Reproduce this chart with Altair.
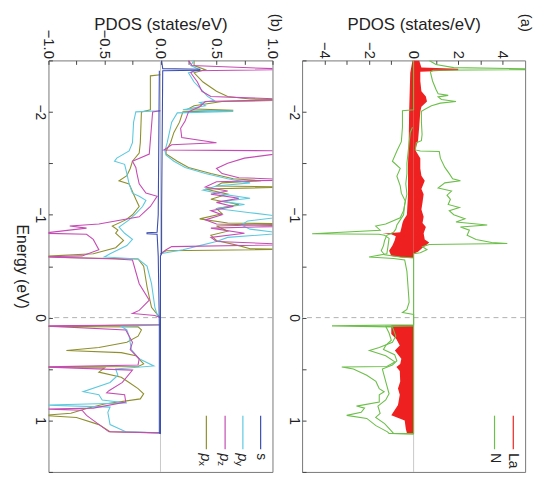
import altair as alt
import pandas as pd

# ---------------- axis ticks ----------------
ENERGY_TICKS = [-2.5, -2.0, -1.5, -1.0, -0.5, 0.0, 0.5, 1.0, 1.5]
A_TICKS = [-4, -3, -2, -1, 0, 1, 2, 3, 4]
B_TICKS = [-1.0, -0.75, -0.5, -0.25, 0.0, 0.25, 0.5, 0.75, 1.0]

# ---------------- panel (a): La / N  (E in eV, PDOS in states/eV) ----------------
N_UP = [(-2.50, 0.7), (-2.46, 1.0), (-2.43, 1.8), (-2.418, 5.2), (-2.41, 5.2), (-2.405, 0.9),
        (-2.39, 0.75), (-2.30, 0.85), (-2.22, 1.0), (-2.175, 1.1), (-2.16, 1.55), (-2.145, 1.1),
        (-2.12, 1.25), (-2.10, 1.9), (-2.085, 1.2), (-2.06, 0.8), (-2.03, 0.55), (-2.005, 0.35),
        (-1.90, 0.35), (-1.78, 0.38), (-1.72, 0.35), (-1.70, 0.12), (-1.63, 0.08), (-1.62, 0.3),
        (-1.615, 1.15), (-1.55, 1.2), (-1.46, 1.4), (-1.40, 1.6), (-1.35, 1.75), (-1.33, 2.1),
        (-1.31, 1.4), (-1.26, 1.1), (-1.23, 1.7), (-1.19, 1.5), (-1.15, 1.65), (-1.10, 1.55),
        (-1.07, 2.05), (-1.04, 1.6), (-1.00, 1.8), (-0.96, 2.3), (-0.93, 1.9), (-0.90, 3.3),
        (-0.88, 2.1), (-0.85, 2.5), (-0.80, 2.4), (-0.76, 2.8), (-0.73, 3.5), (-0.72, 4.2),
        (-0.71, 0.7), (-0.69, 0.4), (-0.66, 0.6), (-0.63, 0.3), (-0.62, 0.0), (1.13, 0.0)]
N_DN = [(-2.50, 0.0), (-2.02, 0.0), (-2.01, -0.5), (-1.85, -0.5), (-1.71, -0.55), (-1.62, -0.75),
        (-1.52, -0.95), (-1.45, -0.6), (-1.375, -0.75), (-1.28, -0.6), (-1.21, -0.55),
        (-1.13, -0.37), (-1.04, -0.45), (-0.97, -0.6), (-0.91, -1.25), (-0.89, -1.7),
        (-0.85, -1.5), (-0.815, -4.55), (-0.81, -1.55), (-0.80, -1.3), (-0.77, -1.1),
        (-0.69, -1.15), (-0.62, -1.2), (-0.59, -2.0), (-0.575, -0.9), (-0.56, -0.4),
        (-0.45, -0.3), (-0.30, -0.25), (-0.15, -0.2), (-0.08, -0.3), (-0.05, -0.5), (-0.03, 0.0),
        (0.07, 0.0), (0.08, -3.66), (0.09, -0.95), (0.18, -0.8), (0.24, -0.95), (0.29, -1.54),
        (0.32, -1.98), (0.37, -1.25), (0.43, -0.84), (0.475, -1.2), (0.48, -3.22), (0.50, -2.7),
        (0.56, -2.1), (0.62, -1.69), (0.69, -1.54), (0.72, -1.32), (0.75, -1.54), (0.82, -1.54),
        (0.86, -2.56), (0.88, -2.2), (0.92, -2.35), (0.95, -3.0), (0.98, -2.1), (1.05, -1.69),
        (1.11, -1.17), (1.125, -1.1), (1.13, 0.0)]
N_DN_INNER = [(-1.85, -0.05), (-1.80, -0.15), (-1.70, -0.2), (-1.60, -0.25), (-1.50, -0.3),
              (-1.40, -0.3), (-1.30, -0.35), (-1.20, -0.3), (-1.10, -0.4), (-1.00, -0.45),
              (-0.95, -0.6), (-0.90, -0.75), (-0.86, -0.8), (-0.83, -0.9), (-0.80, -1.2),
              (-0.75, -1.3), (-0.70, -1.35), (-0.65, -1.45), (-0.61, -1.3), (-0.59, -0.6),
              (-0.58, 0.0)]
N_DN_INNER2 = [(0.08, 0.0), (0.085, -1.25), (0.15, -1.1), (0.22, -1.0), (0.27, -1.25),
               (0.31, -1.35), (0.36, -0.85), (0.42, -0.75), (0.46, -0.95), (0.50, -1.4),
               (0.58, -1.3), (0.66, -1.2), (0.74, -1.1), (0.80, -1.25), (0.86, -1.6),
               (0.93, -1.5), (0.97, -1.7), (1.03, -1.3), (1.10, -1.0), (1.125, -0.9), (1.13, 0.0)]
LA_UP = [(-2.50, 0.25), (-2.43, 0.35), (-2.418, 2.0), (-2.405, 2.0), (-2.39, 0.3), (-2.30, 0.3),
         (-2.20, 0.35), (-2.15, 0.55), (-2.10, 0.6), (-2.05, 0.35), (-2.00, 0.3), (-1.85, 0.25),
         (-1.72, 0.2), (-1.65, 0.1), (-1.62, 0.1), (-1.55, 0.3), (-1.45, 0.3), (-1.38, 0.35),
         (-1.33, 0.5), (-1.25, 0.35), (-1.20, 0.45), (-1.12, 0.4), (-1.05, 0.35), (-0.98, 0.45),
         (-0.92, 0.4), (-0.88, 0.55), (-0.82, 0.45), (-0.76, 0.5), (-0.73, 0.7), (-0.71, 0.6),
         (-0.68, 0.4), (-0.64, 0.2), (-0.62, 0.0), (1.13, 0.0)]
LA_DN = [(-2.50, -0.05), (-2.38, -0.15), (-2.00, -0.2), (-1.70, -0.22), (-1.50, -0.25),
         (-1.20, -0.25), (-1.00, -0.3), (-0.95, -0.45), (-0.92, -0.5), (-0.87, -0.55),
         (-0.83, -0.6), (-0.815, -1.4), (-0.81, -1.0), (-0.79, -0.8), (-0.75, -0.85),
         (-0.70, -0.95), (-0.65, -1.1), (-0.60, -1.0), (-0.585, -0.5), (-0.58, 0.0), (0.07, 0.0),
         (0.075, -1.0), (0.16, -1.0), (0.21, -0.77), (0.27, -0.62), (0.32, -0.84), (0.40, -0.55),
         (0.45, -0.6), (0.48, -0.77), (0.52, -0.62), (0.62, -0.6), (0.69, -0.7), (0.75, -0.62),
         (0.85, -0.7), (0.95, -1.0), (1.00, -0.4), (1.08, -0.35), (1.125, -0.3), (1.13, 0.0)]

# ---------------- panel (b): N s / p orbitals ----------------
S_UP = [(-2.50, 0.01), (-2.42, 0.02), (-2.415, 0.35), (-2.405, 0.35), (-2.40, 0.02),
        (-1.00, 0.01), (-0.62, 0.01), (-0.60, 0.0), (1.13, 0.0)]
S_DN = [(-2.40, -0.01), (-1.00, -0.02), (-0.83, -0.03), (-0.825, -0.12), (-0.815, -0.12),
        (-0.81, -0.03), (-0.60, -0.02), (0.08, -0.01), (1.12, -0.01), (1.13, 0.0)]
PX_UP = [(-2.50, 0.3), (-2.45, 0.3), (-2.41, 0.4), (-2.38, 0.3), (-2.29, 0.38), (-2.20, 0.5),
         (-2.15, 0.6), (-2.125, 0.8), (-2.115, 1.2), (-2.10, 0.55), (-2.06, 0.3), (-2.03, 0.25),
         (-2.015, 0.65), (-2.00, 0.2), (-1.90, 0.17), (-1.80, 0.12), (-1.70, 0.09), (-1.62, 0.05),
         (-1.59, 0.05), (-1.52, 0.15), (-1.46, 0.25), (-1.40, 0.45), (-1.35, 0.65), (-1.33, 0.9),
         (-1.31, 0.55), (-1.28, 0.5), (-1.27, 1.2), (-1.25, 0.4), (-1.20, 0.6), (-1.15, 0.45),
         (-1.10, 0.7), (-1.06, 0.5), (-1.01, 0.55), (-0.96, 0.35), (-0.92, 0.6), (-0.91, 1.2),
         (-0.89, 0.5), (-0.84, 0.6), (-0.80, 0.45), (-0.75, 0.5), (-0.70, 0.7), (-0.67, 0.8),
         (-0.665, 1.2), (-0.65, 0.05), (-0.62, 0.0)]
PY_UP = [(-2.50, 0.3), (-2.45, 0.27), (-2.41, 0.35), (-2.38, 0.25), (-2.29, 0.3), (-2.20, 0.38),
         (-2.15, 0.42), (-2.11, 0.48), (-2.09, 0.35), (-2.06, 0.4), (-2.02, 0.2), (-2.005, 0.65),
         (-1.99, 0.15), (-1.90, 0.1), (-1.80, 0.08), (-1.70, 0.06), (-1.62, 0.04), (-1.58, 0.05),
         (-1.52, 0.12), (-1.46, 0.22), (-1.40, 0.4), (-1.35, 0.6), (-1.31, 0.8), (-1.28, 0.5),
         (-1.24, 0.38), (-1.20, 0.55), (-1.16, 0.8), (-1.13, 0.55), (-1.10, 0.75), (-1.06, 0.5),
         (-1.02, 0.8), (-0.98, 1.1), (-0.94, 0.78), (-0.90, 0.72), (-0.86, 0.8), (-0.82, 1.1),
         (-0.78, 0.6), (-0.74, 0.5), (-0.70, 0.35), (-0.66, 0.2), (-0.62, 0.0)]
PZ_UP = [(-2.50, 0.25), (-2.45, 0.28), (-2.412, 1.2), (-2.40, 0.3), (-2.38, 0.27), (-2.29, 0.33),
         (-2.20, 0.37), (-2.15, 0.45), (-2.12, 1.2), (-2.10, 0.4), (-2.05, 0.35), (-2.00, 0.25),
         (-1.91, 0.22), (-1.84, 0.18), (-1.75, 0.19), (-1.70, 0.5), (-1.68, 0.1), (-1.63, 0.03),
         (-1.62, 1.2), (-1.60, 1.1), (-1.55, 0.75), (-1.50, 0.6), (-1.45, 0.5), (-1.40, 0.55),
         (-1.36, 0.7), (-1.34, 1.2), (-1.32, 0.5), (-1.27, 0.4), (-1.23, 0.6), (-1.20, 0.45),
         (-1.16, 0.7), (-1.12, 0.5), (-1.08, 0.65), (-1.04, 0.45), (-1.00, 0.55), (-0.95, 0.4),
         (-0.91, 0.5), (-0.89, 1.2), (-0.87, 0.45), (-0.82, 0.75), (-0.78, 0.45), (-0.74, 0.5),
         (-0.71, 1.2), (-0.69, 0.1), (-0.66, 0.05), (-0.62, 0.0)]
PX_DN = [(-2.36, 0.0), (-2.35, -0.09), (-2.02, -0.09), (-2.00, -0.17), (-1.70, -0.18),
         (-1.60, -0.19), (-1.52, -0.25), (-1.45, -0.27), (-1.38, -0.3), (-1.33, -0.37),
         (-1.30, -0.28), (-1.25, -0.26), (-1.15, -0.22), (-1.08, -0.19), (-1.00, -0.25),
         (-0.95, -0.31), (-0.89, -0.43), (-0.85, -0.38), (-0.82, -0.4), (-0.75, -0.33),
         (-0.68, -0.4), (-0.62, -0.6), (-0.595, -1.05), (-0.585, -0.9), (-0.57, -0.2),
         (-0.50, -0.15), (-0.30, -0.12), (-0.10, -0.08), (-0.02, -0.02), (0.00, 0.0), (0.07, 0.0),
         (0.085, -1.05), (0.09, -0.2), (0.12, -0.17), (0.18, -0.2), (0.24, -0.3), (0.29, -0.55),
         (0.32, -0.84), (0.34, -0.35), (0.37, -0.22), (0.45, -0.15), (0.475, -0.2), (0.48, -1.05),
         (0.49, -0.5), (0.53, -0.55), (0.58, -0.35), (0.63, -0.28), (0.69, -0.2), (0.74, -0.15),
         (0.79, -0.18), (0.84, -0.5), (0.88, -0.65), (0.93, -0.8), (0.95, -1.05), (0.97, -0.75),
         (1.04, -0.55), (1.11, -0.45), (1.12, 0.0)]
PY_DN = [(-2.01, 0.0), (-2.00, -0.22), (-1.90, -0.24), (-1.70, -0.25), (-1.62, -0.28),
         (-1.55, -0.39), (-1.52, -0.41), (-1.49, -0.32), (-1.40, -0.3), (-1.30, -0.28),
         (-1.21, -0.25), (-1.18, -0.19), (-1.14, -0.13), (-1.08, -0.16), (-1.01, -0.22),
         (-0.95, -0.28), (-0.88, -0.37), (-0.82, -0.32), (-0.76, -0.25), (-0.70, -0.3),
         (-0.62, -0.45), (-0.59, -0.5), (-0.57, -0.2), (-0.50, -0.12), (-0.33, -0.08),
         (-0.10, -0.05), (-0.03, -0.03), (0.00, 0.0), (0.07, 0.0), (0.085, -0.35), (0.12, -0.3),
         (0.18, -0.28), (0.31, -0.26), (0.40, -0.19), (0.47, -0.06), (0.50, -0.4), (0.56, -0.38),
         (0.63, -0.45), (0.72, -0.69), (0.75, -0.55), (0.80, -0.52), (0.83, -0.3), (0.85, -1.05),
         (0.87, -0.45), (0.92, -0.47), (1.04, -0.45), (1.11, -0.31), (1.12, 0.0)]
PZ_DN = [(-2.01, 0.0), (-2.00, -0.07), (-1.59, -0.1), (-1.52, -0.25), (-1.46, -0.22),
         (-1.40, -0.21), (-1.30, -0.19), (-1.21, -0.13), (-1.18, -0.03), (-1.08, -0.09),
         (-0.98, -0.19), (-0.91, -0.55), (-0.89, -0.81), (-0.87, -0.66), (-0.82, -1.05),
         (-0.81, -0.66), (-0.76, -0.6), (-0.66, -0.55), (-0.60, -0.7), (-0.59, -1.05),
         (-0.57, -0.4), (-0.56, -0.25), (-0.33, -0.19), (-0.17, -0.1), (-0.07, -0.19),
         (-0.04, -0.25), (-0.02, -0.05), (0.00, 0.0), (0.07, 0.0), (0.08, -1.05), (0.12, -0.31),
         (0.24, -0.25), (0.31, -0.27), (0.40, -0.19), (0.46, -0.2), (0.48, -1.05), (0.51, -0.25),
         (0.63, -0.34), (0.71, -0.46), (0.73, -0.48), (0.75, -0.32), (0.82, -0.31), (0.88, -0.6),
         (0.89, -1.05), (0.90, -0.7), (0.95, -0.66), (1.11, -0.46), (1.12, 0.0)]

# ---------------- styling ----------------
FONT = "Liberation Sans"
COL = {"La": "#ee2020", "N": "#6cbf4a", "s": "#3a4db0", "py": "#5dc9df",
       "pz": "#c64bb4", "px": "#8f8f2e"}
H, WA, WB = 417, 226, 227


def frame(pairs, series, seg):
    return pd.DataFrame({"E": [p[0] for p in pairs], "v": [p[1] for p in pairs],
                         "series": series, "seg": seg})


def make_yaxis(title):
    return alt.Axis(values=ENERGY_TICKS,
                    labelExpr="datum.value == round(datum.value) ? format(datum.value, 'd') : ''",
                    labelAngle=90, labelAlign="center", labelBaseline="top",
                    labelPadding=2, tickSize=4, offset=-4, domain=False, grid=False,
                    labelFont=FONT, labelFontSize=14, labelColor="#222", tickColor="#444",
                    title=title, titleAngle=90, titleBaseline="top",
                    titleFont=FONT, titleFontSize=16, titleFontWeight="normal",
                    titleColor="#222", titlePadding=3)


def make_xaxis(ticks, expr):
    return alt.Axis(orient="top", values=ticks, labelExpr=expr, labelAngle=90,
                    labelAlign="right", labelBaseline="middle", labelPadding=2,
                    tickSize=4, offset=-4, domain=False, grid=False,
                    labelFont=FONT, labelFontSize=15, labelColor="#222", tickColor="#444",
                    title="PDOS (states/eV)", titleFont=FONT, titleFontSize=17,
                    titleFontWeight="normal", titleColor="#222",
                    titleY=-40, titleBaseline="middle")


ONE = pd.DataFrame({"v": [0.0], "E": [0.0]})


def rtext(txt, x, y, size=14, style="normal", dx=0, dy=0, align="left"):
    return alt.Chart(ONE).mark_text(text=txt, angle=90, align=align, baseline="middle",
                                    font=FONT, fontSize=size, fontStyle=style, dx=dx, dy=dy,
                                    color="#222").encode(x=alt.value(x), y=alt.value(y))


def lrule(x, color):
    return alt.Chart(ONE).mark_rule(color=color, strokeWidth=1.2).encode(
        x=alt.value(x), y=alt.value(360), y2=alt.value(394))


def panel(lines, areas, dom, ticks, expr, width, ytitle, legend, tag, tagx):
    X = alt.X("v:Q", scale=alt.Scale(domain=dom, nice=False, zero=False),
              axis=make_xaxis(ticks, expr))
    Y = alt.Y("E:Q", scale=alt.Scale(domain=[-2.5, 1.5], reverse=True, nice=False, zero=False),
              axis=make_yaxis(ytitle))
    layers = [
        alt.Chart(ONE).mark_rule(color="#c8c8c8", strokeWidth=1).encode(x=X),
        alt.Chart(ONE).mark_rule(color="#b0b0b0", strokeWidth=1, strokeDash=[5, 4]).encode(y=Y),
    ]
    for data, color in areas:
        layers.append(alt.Chart(data).mark_area(color=color, orient="horizontal", clip=True).encode(
            x=X, x2=alt.datum(0), y=Y, detail="seg:N"))
    for data, color in lines:
        layers.append(alt.Chart(data).mark_line(color=color, strokeWidth=1.1, clip=True).encode(
            x=X, y=Y, detail="seg:N", order="E:Q"))
    layers = layers + legend + [rtext(tag, tagx, -38, size=15, align="center")]
    return alt.layer(*layers).properties(width=width, height=H)


a_lines = [(pd.concat([frame(N_UP, "N", "up"), frame(N_DN, "N", "dn"),
                       frame(N_DN_INNER, "N", "dn2"), frame(N_DN_INNER2, "N", "dn3")]), COL["N"])]
a_areas = [(pd.concat([frame(LA_UP, "La", "up"), frame(LA_DN, "La", "dn")]), COL["La"])]
a_legend = [lrule(214, COL["La"]), rtext("La", 214, 398), lrule(195, COL["N"]), rtext("N", 195, 398)]

b_lines = [(pd.concat([frame(PX_UP, "px", "up"), frame(PX_DN, "px", "dn")]), COL["px"]),
           (pd.concat([frame(PY_UP, "py", "up"), frame(PY_DN, "py", "dn")]), COL["py"]),
           (pd.concat([frame(PZ_UP, "pz", "up"), frame(PZ_DN, "pz", "dn")]), COL["pz"]),
           (pd.concat([frame(S_UP, "s", "up"), frame(S_DN, "s", "dn")]), COL["s"])]
b_legend = [lrule(215, COL["s"]), rtext("s", 215, 398),
            lrule(197, COL["py"]), rtext("p", 197, 398, size=15, style="italic"),
            rtext("y", 197, 398, size=10, dx=8, dy=4),
            lrule(179, COL["pz"]), rtext("p", 179, 398, size=15, style="italic"),
            rtext("z", 179, 398, size=10, dx=8, dy=4),
            lrule(160, COL["px"]), rtext("p", 160, 398, size=15, style="italic"),
            rtext("x", 160, 398, size=10, dx=8, dy=4)]

panel_b = panel(b_lines, [], [-1, 1], B_TICKS,
                "abs(datum.value*2 - round(datum.value*2)) < 0.001 ? format(datum.value, '.1f') : ''",
                WB, "Energy (eV)", b_legend, "(b)", WB + 4)
panel_a = panel(a_lines, a_areas, [-5, 5], A_TICKS,
                "datum.value % 2 == 0 ? format(datum.value, 'd') : ''",
                WA, None, a_legend, "(a)", WA + 1)

chart = alt.hconcat(panel_b, panel_a, spacing=1).properties(
    padding={"left": 5, "top": 2, "right": 0, "bottom": 0}
).configure_view(stroke="#777", strokeWidth=1)

chart.save("out.html", embed_options={"renderer": "svg", "actions": False})
